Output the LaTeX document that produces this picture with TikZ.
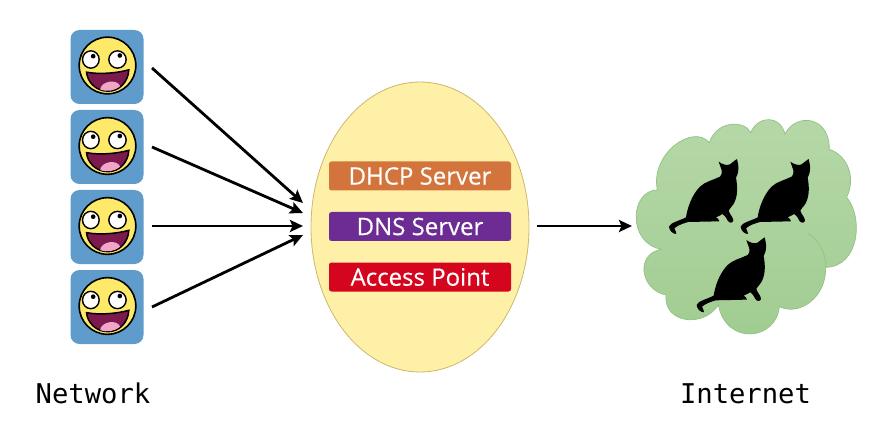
\documentclass[tikz,border=0pt]{standalone}
\usepackage{fontspec}
\setmainfont{Open Sans}
\setmonofont{DejaVu Sans Mono}
\newfontfamily\svcfont[FakeBold=0.3]{Open Sans}
\usetikzlibrary{arrows.meta,shapes.geometric}
\definecolor{boxblue}{HTML}{5F9BCB}
\definecolor{faceyellow}{HTML}{FFE968}
\definecolor{mouthred}{HTML}{7C1A50}
\definecolor{tonguepink}{HTML}{F0A6C4}
\definecolor{hubfill}{HTML}{FFF0A8}
\definecolor{hubline}{HTML}{CDB76C}
\definecolor{dhcpc}{HTML}{D2743C}
\definecolor{dnsc}{HTML}{6C2C94}
\definecolor{apc}{HTML}{D4051C}
\definecolor{cloudtop}{HTML}{B6D8A8}
\definecolor{cloudbot}{HTML}{A0CC90}
\definecolor{cloudline}{HTML}{93C184}
\tikzset{
 facebox/.style={draw=none,fill=boxblue,rounded corners=9pt,minimum width=73pt,minimum height=74pt,inner sep=0pt},
 flow/.style={line width=2.8pt,black,-{Stealth[length=13pt,width=12pt,inset=2.5pt]}},
 svc/.style={rounded corners=2.5pt,minimum width=182pt,minimum height=29pt,inner sep=0pt,text=white,font=\svcfont\fontsize{24}{24}\selectfont},
 caption/.style={inner sep=0pt,font=\ttfamily\fontsize{27.2}{27}\selectfont},
 smile/.pic={
  \begin{scope}[x=0.3333pt,y=-0.3333pt]
  \draw[fill=faceyellow,line width=1.6pt] (0,0) circle (85);
  \draw[fill=white,line width=1.4pt] (-50,-18) ellipse (25 and 26);
  \draw[fill=white,line width=1.4pt] (30,-18) ellipse (26 and 26);
  \fill (-43,-28) circle (7);
  \fill (37,-30) circle (7);
  \draw[fill=mouthred,line width=1.5pt] (-63,20) .. controls (-20,28) and (30,22) .. (64,13) .. controls (62,50) and (35,77) .. (2,77) .. controls (-35,77) and (-60,50) .. (-63,20) -- cycle;
  \fill[tonguepink] (-22,72) .. controls (-18,45) and (30,40) .. (38,62) .. controls (20,76) and (0,80) .. (-22,72) -- cycle;
  \end{scope}
 },
 catshape/.pic={
  \begin{scope}[x=0.3333pt,y=-0.3333pt]
  \fill[black] (266,155) .. controls (275,162) and (290,168) .. (300,163) .. controls (308,158) and (314,150) .. (321,147) .. controls (325,165) and (330,180) .. (318,203) .. controls (322,225) and (325,255) .. (312,280) .. controls (305,292) and (298,295) .. (296,302) .. controls (300,315) and (310,322) .. (310,332) .. controls (308,340) and (298,340) .. (293,332) .. controls (288,322) and (284,316) .. (278,312) .. controls (272,318) and (262,318) .. (258,322) .. controls (262,325) and (268,328) .. (268,334) -- (175,336) .. controls (160,340) and (145,345) .. (133,355) .. controls (135,362) and (140,366) .. (139,372) .. controls (128,372) and (118,362) .. (117,350) .. controls (120,338) and (150,332) .. (168,322) .. controls (172,295) and (185,255) .. (210,230) .. controls (225,215) and (250,210) .. (270,200) .. controls (278,192) and (276,180) .. (272,172) -- cycle;
  \end{scope}
 }
}
\begin{document}
\begin{tikzpicture}[x=1pt,y=-1pt]
\useasboundingbox (0,0) rectangle (871,433);
% client boxes
\node[facebox] (u1) at (107,67) {};
\node[facebox] (u2) at (107,147) {};
\node[facebox] (u3) at (107,227) {};
\node[facebox] (u4) at (107,307) {};
\pic at (107.5,65.5) {smile};
\pic at (107.5,146) {smile};
\pic at (107.5,226) {smile};
\pic at (107.5,306) {smile};
% hub
\node[ellipse,draw=hubline,fill=hubfill,line width=0.8pt,minimum width=218pt,minimum height=290pt,inner sep=0pt] (hub) at (420,227) {};
\node[svc,fill=dhcpc] (dhcp) at (420,176) {DHCP Server};
\node[svc,fill=dnsc] (dns) at (420,226.5) {DNS Server};
\node[svc,fill=apc] (ap) at (420,277) {Access Point};
% cloud
\begin{scope}[shift={(630,110)},x=0.3333pt,y=-0.3333pt]
\shade[top color=cloudtop,bottom color=cloudbot,draw=cloudline,line width=0.7pt]
 (238,98) .. controls (260,30) and (345,30) .. (362,68)
 .. controls (385,15) and (450,15) .. (465,72)
 .. controls (500,5) and (600,20) .. (598,118)
 .. controls (650,135) and (680,200) .. (650,262)
 .. controls (700,320) and (690,470) .. (587,472)
 .. controls (590,560) and (510,620) .. (448,590)
 .. controls (440,690) and (290,710) .. (265,585)
 .. controls (220,655) and (100,640) .. (108,555)
 .. controls (30,540) and (15,430) .. (95,418)
 .. controls (-10,400) and (0,240) .. (82,240)
 .. controls (60,130) and (190,40) .. (238,98) -- cycle;
\draw[cloudline,line width=0.7pt] (535,370) .. controls (565,390) and (590,430) .. (587,472);
\end{scope}
\begin{scope}[shift={(630,110)},x=0.3333pt,y=-0.3333pt]
\pic at (0,0) {catshape};
\pic at (215,0) {catshape};
\pic at (83,235) {catshape};
\end{scope}
% connector ends
\coordinate (s1) at (152,68);
\coordinate (s2) at (152,147);
\coordinate (s3) at (152,226);
\coordinate (s4) at (152,307);
\coordinate (e1) at (303,203);
\coordinate (e2) at (303,213);
\coordinate (e3) at (303,226);
\coordinate (e4) at (303,235);
\coordinate (o1) at (537,226);
\coordinate (o2) at (632,226);
\draw[flow] (s1) -- (e1);
\draw[flow] (s2) -- (e2);
\draw[flow] (s3) -- (e3);
\draw[flow] (s4) -- (e4);
\draw[flow] (o1) -- (o2);
\node[caption,anchor=base] (net) at (93,403) {Network};
\node[caption,anchor=base] (inet) at (745.5,403) {Internet};
\end{tikzpicture}
\end{document}
